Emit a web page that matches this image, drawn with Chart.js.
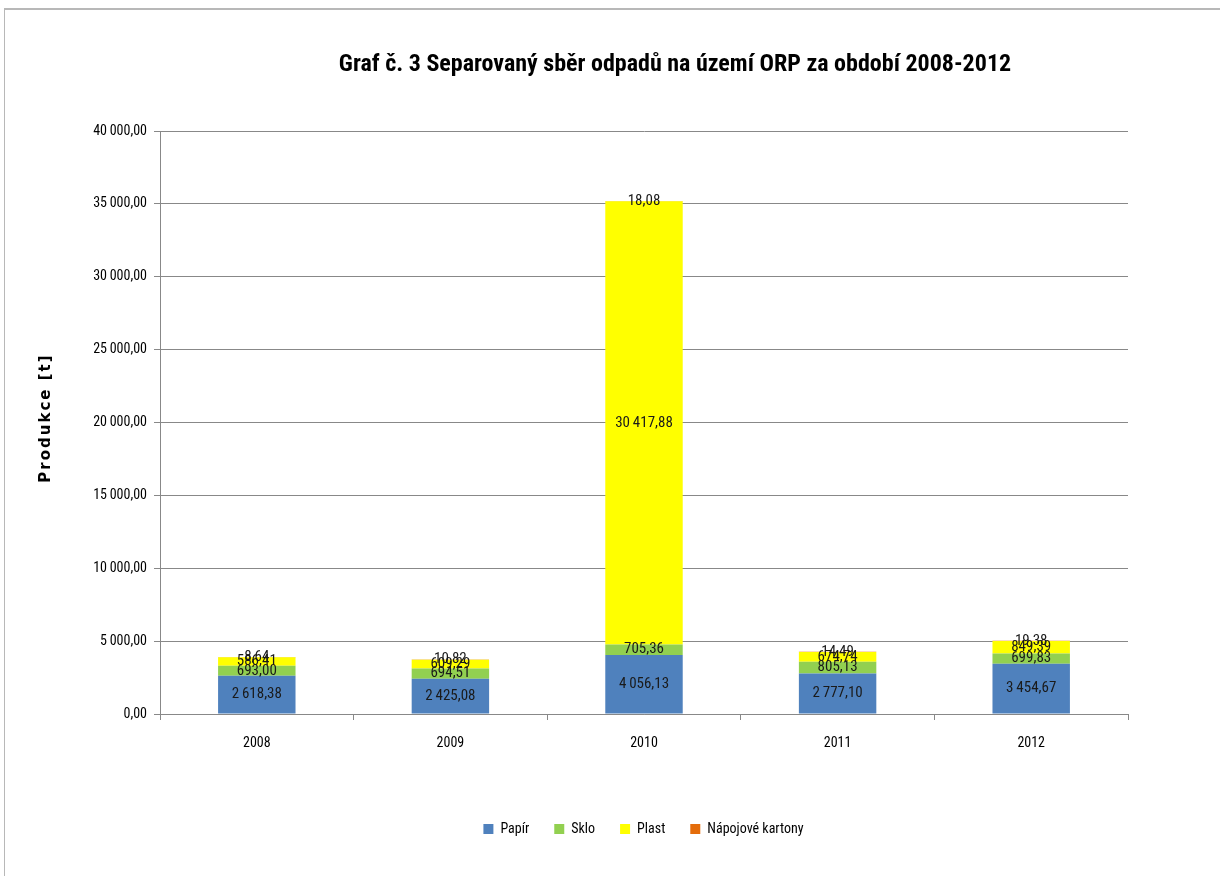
<!DOCTYPE html>
<html lang="cs">
<head>
<meta charset="UTF-8">
<title>Separovaný sběr odpadů</title>
<script src="https://cdn.jsdelivr.net/npm/chart.js"></script>
<style>
  html, body { margin: 0; padding: 0; background: #fff; }
  .frame { position: absolute; left: 4px; top: 8px; width: 1230px; height: 880px;
           border-top: 2px solid #b8b8b8; border-left: 1px solid #b8b8b8; }
  .wrap { position: absolute; left: 0; top: 0; width: 1220px; height: 876px; }
</style>
</head>
<body>
<div class="frame"></div>
<div class="wrap"><canvas id="graf"></canvas></div>
<script>
const roky = ['2008', '2009', '2010', '2011', '2012'];
const papir = [2618.38, 2425.08, 4056.13, 2777.10, 3454.67];
const sklo = [693.00, 694.51, 705.36, 805.13, 699.83];
const plast = [586.41, 609.29, 30417.88, 674.74, 849.39];
const kartony = [8.64, 10.82, 18.08, 14.49, 19.38];
const osaY = [0, 5000, 10000, 15000, 20000, 25000, 30000, 35000, 40000];

const pismo = "'Liberation Sans Narrow', 'Roboto Condensed', Lato, sans-serif";

function cislo(v) {
    let [cele, des] = Number(v).toFixed(2).split('.');
    cele = cele.replace(/\B(?=(\d{3})+(?!\d))/g, '\u2009');
    return cele + ',' + des;
}

// popisky hodnot uprostred kazdeho useku sloupce
const popisky = {
    id: 'popisky',
    afterDatasetsDraw(chart) {
        const ctx = chart.ctx;
        ctx.save();
        ctx.font = '15px ' + pismo;
        ctx.fillStyle = '#1a1a1a';
        ctx.textAlign = 'center';
        ctx.textBaseline = 'middle';
        chart.data.datasets.forEach((ds, i) => {
            chart.getDatasetMeta(i).data.forEach((bar, j) => {
                const y = (bar.y + bar.base) / 2;
                ctx.fillText(cislo(ds.data[j]), bar.x, y);
            });
        });
        ctx.restore();
    }
};

// nadpis grafu a popis osy y
const nadpis = {
    id: 'nadpis',
    afterLayout(chart) {
        // legenda je v originale vystredena pod plochou grafu
        chart.legend.left += 61;
        chart.legend.right += 61;
    },
    afterDraw(chart) {
        const ctx = chart.ctx;
        ctx.save();
        ctx.font = 'bold 24px ' + pismo;
        ctx.fillStyle = '#000';
        ctx.textAlign = 'center';
        ctx.textBaseline = 'middle';
        ctx.fillText('Graf č. 3 Separovaný sběr odpadů na území ORP za období 2008-2012', 675, 65);

        ctx.translate(46, 418);
        ctx.rotate(-Math.PI / 2);
        ctx.font = 'bold 15px Verdana, "DejaVu Sans", sans-serif';
        ctx.letterSpacing = '2px';
        ctx.fillText('Produkce [t]', 0, 0);
        ctx.restore();
    }
};

new Chart(document.getElementById('graf'), {
    type: 'bar',
    data: {
        labels: roky,
        datasets: [
            { label: 'Papír', data: papir, backgroundColor: '#4f81bd' },
            { label: 'Sklo', data: sklo, backgroundColor: '#92d050' },
            { label: 'Plast', data: plast, backgroundColor: '#ffff00' },
            { label: 'Nápojové kartony', data: kartony, backgroundColor: '#e46c0a' }
        ]
    },
    options: {
        responsive: true,
        maintainAspectRatio: false,
        animation: false,
        barPercentage: 0.4,
        categoryPercentage: 1.0,
        layout: { padding: { left: 37, right: 92, top: 131, bottom: 30 } },
        plugins: {
            title: { display: false },
            tooltip: { enabled: false },
            legend: {
                position: 'bottom',
                labels: {
                    boxWidth: 10, boxHeight: 10, padding: 25,
                    color: '#000',
                    font: { family: pismo, size: 14 }
                }
            }
        },
        scales: {
            x: {
                stacked: true,
                grid: { offset: true, drawOnChartArea: false, tickLength: 6, color: '#888' },
                border: { color: '#888' },
                ticks: { color: '#000', padding: 15, font: { family: pismo, size: 14 } },
                afterFit(s) { s.height = 83; }
            },
            y: {
                stacked: true,
                min: 0, max: 40000,
                afterBuildTicks(s) { s.ticks = osaY.map(v => ({ value: v })); },
                grid: { color: '#888', tickLength: 6 },
                border: { color: '#888' },
                ticks: {
                    color: '#000', padding: 7,
                    font: { family: pismo, size: 14 },
                    callback: v => cislo(v)
                },
                afterFit(s) { s.width = 123; }
            }
        }
    },
    plugins: [popisky, nadpis]
});
</script>
</body>
</html>
